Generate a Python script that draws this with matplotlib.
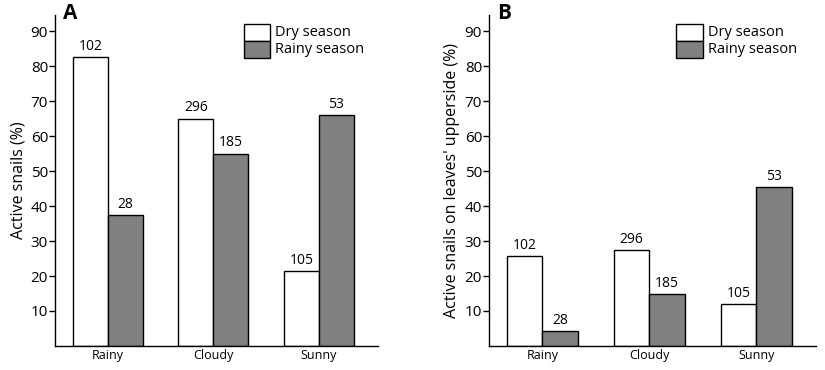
import matplotlib
matplotlib.use("Agg")
import matplotlib.pyplot as plt
from matplotlib.patches import Rectangle
import numpy as np

categories = ["Rainy", "Cloudy", "Sunny"]
seasons = ["Dry season", "Rainy season"]
a_dry = [82.5, 65.0, 21.5]
a_rainy = [37.4, 55.0, 66.1]
b_dry = [25.8, 27.4, 12.0]
b_rainy = [4.3, 14.9, 45.3]
n_dry = ["102", "296", "105"]
n_rainy = ["28", "185", "53"]
yticks = [10, 20, 30, 40, 50, 60, 70, 80, 90]

plt.rcParams['font.family'] = ['Open Sans', 'DejaVu Sans']

fig = plt.figure(figsize=(8.25, 3.7), dpi=100)
axA = fig.add_axes([0.0667, 0.0649, 0.3915, 0.8946])
axB = fig.add_axes([0.5927, 0.0649, 0.3963, 0.8946])

colors = ["white", "#808080"]
w = 0.332

def panel(ax, dry, rainy, ylabel, letter, legx, legw):
    x = np.arange(len(categories))
    ax.bar(x - w/2, dry, w, color=colors[0], edgecolor="black", linewidth=1.0, label=seasons[0])
    ax.bar(x + w/2, rainy, w, color=colors[1], edgecolor="black", linewidth=1.0, label=seasons[1])
    for xi, v, t in zip(x - w/2, dry, n_dry):
        ax.text(xi, v + 0.9, t, ha="center", va="bottom", fontsize=10)
    for xi, v, t in zip(x + w/2, rainy, n_rainy):
        ax.text(xi, v + 0.9, t, ha="center", va="bottom", fontsize=10)
    ax.set_xlim(-0.5, 2.56)
    ax.set_ylim(0, 94.6)
    ax.set_yticks(yticks)
    ax.tick_params(axis="y", labelsize=11, length=4, width=1, pad=1)
    ax.set_xticks(x)
    ax.set_xticklabels(categories)
    ax.tick_params(axis="x", labelsize=9, length=0, pad=2)
    for s in ["top", "right"]:
        ax.spines[s].set_visible(False)
    for s in ["left", "bottom"]:
        ax.spines[s].set_linewidth(1.0)
    ax.set_ylabel(ylabel, fontsize=11.5, labelpad=3)
    ax.text(0.025, 1.005, letter, transform=ax.transAxes, fontsize=15, fontweight="bold",
            ha="left", va="center")
    # legend drawn as boxes + labels in axes coordinates
    top = 0.973
    h = 0.0515
    for i, (lab, c) in enumerate(zip(seasons, colors)):
        y0 = top - (i + 1) * h
        ax.add_patch(Rectangle((legx, y0), legw, h, transform=ax.transAxes,
                               facecolor=c, edgecolor="black", linewidth=1.0, clip_on=False))
        ax.text(legx + legw + 0.015, y0 + h / 2, lab, transform=ax.transAxes,
                fontsize=10.5, ha="left", va="center")

panel(axA, a_dry, a_rainy, "Active snails (%)", "A", 0.585, 0.081)
panel(axB, b_dry, b_rainy, "Active snails on leaves' upperside (%)", "B", 0.572, 0.082)

fig.savefig("out.png", dpi=100)
